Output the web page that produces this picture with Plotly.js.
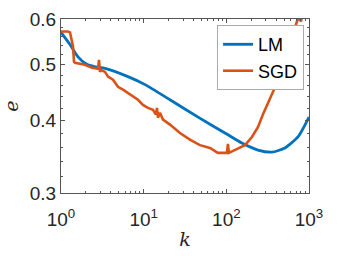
<!DOCTYPE html>
<html>
<head>
<meta charset="utf-8">
<script src="https://cdn.plot.ly/plotly-3.0.1.min.js"></script>
<style>html,body{margin:0;padding:0;background:#fff;}#chart{width:342px;height:256px;}</style>
</head>
<body>
<div id="chart"></div>
<script>
// LM series
const lmK = [1, 1.285, 1.605, 2.0, 2.58, 3.40, 6.46, 10.4, 20.8, 46.6, 96.2, 154, 241, 356, 511, 734, 1000];
const lmE = [0.569, 0.542, 0.516, 0.502, 0.496, 0.493, 0.477, 0.462, 0.435, 0.405, 0.381, 0.366, 0.356, 0.353, 0.359, 0.375, 0.406];

// SGD series
const sgdK = [1, 1.215, 1.285, 1.321, 1.397, 1.436, 1.476, 1.951, 2.371, 2.802, 2.881, 2.962, 3.045, 3.404, 3.701,
  4.254, 4.890, 5.619, 6.459, 7.424, 8.533, 9.806, 11.27, 12.95, 14.09, 14.48, 14.89, 15.74, 17.12, 20.80,
  27.48, 36.29, 47.96, 63.36, 79.14, 101.7, 104.5, 107.5, 127.1, 167.9, 204.0, 241.1, 277.1, 318.4, 355.9,
  409.2, 457.3, 540.4, 638.9, 714.2, 755.1, 798, 820.6, 867.7];
const sgdE = [0.571, 0.571, 0.569, 0.559, 0.538, 0.506, 0.504, 0.500, 0.494, 0.492, 0.510, 0.486, 0.490, 0.486, 0.477,
  0.471, 0.458, 0.453, 0.447, 0.440, 0.435, 0.426, 0.421, 0.418, 0.410, 0.421, 0.405, 0.413, 0.402, 0.394,
  0.381, 0.371, 0.363, 0.359, 0.352, 0.352, 0.365, 0.352, 0.356, 0.363, 0.375, 0.390, 0.410, 0.430, 0.444,
  0.465, 0.480, 0.521, 0.564, 0.594, 0.604, 0.594, 0.604, 0.623];

// ticks
const xTickVals = [1, 10, 100, 1000];
const xTickText = ['10<sup>0</sup>', '10<sup>1</sup>', '10<sup>2</sup>', '10<sup>3</sup>'];
const xMinorVals = [2,3,4,5,6,7,8,9,20,30,40,50,60,70,80,90,200,300,400,500,600,700,800,900];
const yTickVals = [0.3, 0.4, 0.5, 0.6];
const yTickText = ['0.3', '0.4', '0.5', '0.6'];
const yMinorVals = [0.32,0.34,0.36,0.38,0.42,0.44,0.46,0.48,0.52,0.54,0.56,0.58];

const axisCommon = {
  type: 'log',
  showgrid: false,
  zeroline: false,
  showline: true,
  linecolor: '#555',
  linewidth: 1,
  mirror: 'ticks',
  ticks: 'inside',
  ticklen: 4,
  tickwidth: 1,
  tickcolor: '#555',
  tickfont: {family: 'Liberation Sans, Arial, sans-serif', size: 19, color: '#262626'},
  tickmode: 'array'
};

const data = [
  {x: lmK, y: lmE, type: 'scatter', mode: 'lines', name: 'LM',
   line: {color: '#0072BD', width: 2.8, shape: 'spline', smoothing: 0.6}},
  {x: sgdK, y: sgdE, type: 'scatter', mode: 'lines', name: 'SGD',
   line: {color: '#D95319', width: 2.6}}
];

const layout = {
  width: 342, height: 256,
  margin: {l: 61, r: 33, t: 19, b: 63},
  paper_bgcolor: '#fff', plot_bgcolor: '#fff',
  showlegend: true,
  xaxis: Object.assign({}, axisCommon, {
    range: [0, 3],
    tickvals: xTickVals, ticktext: xTickText,
    ticklabelstandoff: 9,
    minor: {tickmode: 'array', tickvals: xMinorVals, ticks: 'inside', ticklen: 2, tickcolor: '#555', showgrid: false},
    title: {text: '<i>k</i>', font: {family: 'DejaVu Serif, serif', size: 19, color: '#262626'}, standoff: 3}
  }),
  yaxis: Object.assign({}, axisCommon, {
    range: [Math.log10(0.3), Math.log10(0.6)],
    tickvals: yTickVals, ticktext: yTickText,
    minor: {tickmode: 'array', tickvals: yMinorVals, ticks: 'inside', ticklen: 2, tickcolor: '#555', showgrid: false},
    title: {text: '<i>e</i>', font: {family: 'DejaVu Serif, serif', size: 19, color: '#262626'}, standoff: 9}
  }),
  legend: {
    x: 0.98, xanchor: 'right', y: 0.965, yanchor: 'top',
    bgcolor: '#fff', bordercolor: '#aaa', borderwidth: 1,
    font: {family: 'Liberation Sans, Arial, sans-serif', size: 18, color: '#000'},
    itemwidth: 30, tracegroupgap: 0
  }
};

Plotly.newPlot('chart', data, layout, {displayModeBar: false, staticPlot: true});
</script>
</body>
</html>
